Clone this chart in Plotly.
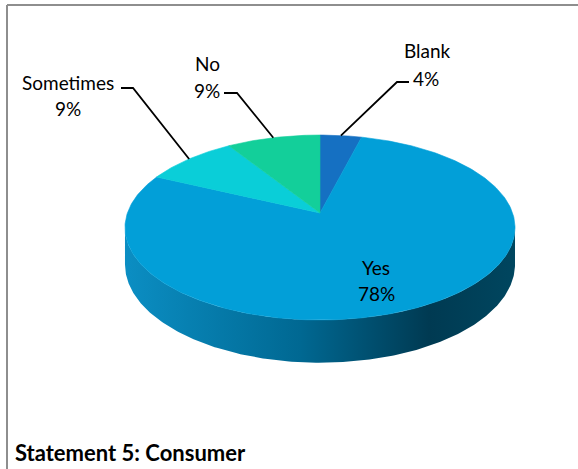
import numpy as np
import plotly.graph_objects as go

# Survey answers, clockwise from 12 o'clock
labels = ["Blank", "Yes", "Sometimes", "No"]
shares = [4, 78, 9, 9]
colors = ["#1570C2", "#029FD8", "#0ACED8", "#13CF9A"]
caption = "Statement 5: Consumer"

W, H = 578, 469

# Tilted-disc geometry (screen pixels) with a mild perspective
CX, CY = 320, 213      # apex of the slices
K = 192.6              # horizontal radius
KS = 90.2              # vertical radius (tilt)
E = 0.157              # perspective strength
DEPTH = 36             # thickness of the disc


def proj(theta, drop=0.0):
    """Project an angle (radians, clockwise from top) onto the tilted disc."""
    den = 1 + E * np.cos(theta)
    x = CX + K * np.sin(theta) / den
    y = CY - KS * np.cos(theta) / den + drop / den
    return x, y


fig = go.Figure()

# Side wall of the disc (visible front half)
t0 = np.arccos(-E)
ts = np.linspace(t0, 2 * np.pi - t0, 240)
xt, yt = proj(ts)
xb, yb = proj(ts[::-1], DEPTH)
fig.add_trace(go.Scatter(
    x=np.concatenate([xt, xb, xt[:1]]),
    y=np.concatenate([yt, yb, yt[:1]]),
    mode="lines", line=dict(width=0), fill="toself",
    fillgradient=dict(type="horizontal", colorscale=[
        [0.0, "#0B8EC3"], [0.45, "#006892"], [0.78, "#003A52"], [1.0, "#00465F"]]),
    hoverinfo="skip",
))

# Top face slices
total = sum(shares)
start = 0.0
mids = []
for lab, val, col in zip(labels, shares, colors):
    a0 = start / total * 2 * np.pi
    a1 = (start + val) / total * 2 * np.pi
    n = max(8, int(val * 4))
    ang = np.linspace(a0, a1, n)
    px, py = proj(ang)
    fig.add_trace(go.Scatter(
        x=np.concatenate([[CX], px, [CX]]),
        y=np.concatenate([[CY], py, [CY]]),
        mode="lines", line=dict(width=0.6, color=col), fill="toself",
        fillcolor=col, hoverinfo="skip", name=lab,
    ))
    mids.append((a0 + a1) / 2)
    start += val

# Label placement: name position, percent position, leader elbow and end
label_pos = {
    "Blank": dict(name=(427, 50), pct=(426, 78), elbow=(397, 82), end=(409, 82)),
    "No": dict(name=(207, 63), pct=(207, 90), elbow=(237, 93), end=(224, 93)),
    "Sometimes": dict(name=(68, 82), pct=(68, 108), elbow=(133, 88), end=(121, 88)),
    "Yes": dict(name=(376, 267), pct=(376, 293), elbow=None, end=None),
}

font = dict(family="Lato, 'Open Sans', sans-serif", size=19, color="#000000")
annotations = []
for lab, val, mid in zip(labels, shares, mids):
    p = label_pos[lab]
    annotations.append(dict(x=p["name"][0], y=p["name"][1], text=lab, showarrow=False,
                            xref="x", yref="y", font=font))
    annotations.append(dict(x=p["pct"][0], y=p["pct"][1], text=f"{val}%", showarrow=False,
                            xref="x", yref="y", font=font))
    if p["elbow"] is not None:
        sx, sy = proj(mid)
        fig.add_trace(go.Scatter(
            x=[sx, p["elbow"][0], p["end"][0]], y=[sy, p["elbow"][1], p["end"][1]],
            mode="lines", line=dict(color="#000000", width=1.8), hoverinfo="skip",
        ))

annotations.append(dict(x=13, y=452, text=f"<b>{caption}</b>", showarrow=False,
                        xref="x", yref="y", xanchor="left", yanchor="middle",
                        font=dict(family="Lato, 'Open Sans', sans-serif", size=22,
                                  color="#000000")))

# Frame around the chart area
shapes = [dict(type="line", xref="x", yref="y", x0=7, y0=H, x1=7, y1=5,
               line=dict(color="#8E8E8E", width=2)),
          dict(type="line", xref="x", yref="y", x0=7, y0=5, x1=W, y1=5,
               line=dict(color="#8E8E8E", width=2))]

fig.update_layout(
    width=W, height=H, margin=dict(l=0, r=0, t=0, b=0),
    paper_bgcolor="white", plot_bgcolor="white", showlegend=False,
    xaxis=dict(range=[0, W], visible=False, fixedrange=True),
    yaxis=dict(range=[H, 0], visible=False, fixedrange=True),
    annotations=annotations, shapes=shapes,
)

fig.write_html("out.html")
